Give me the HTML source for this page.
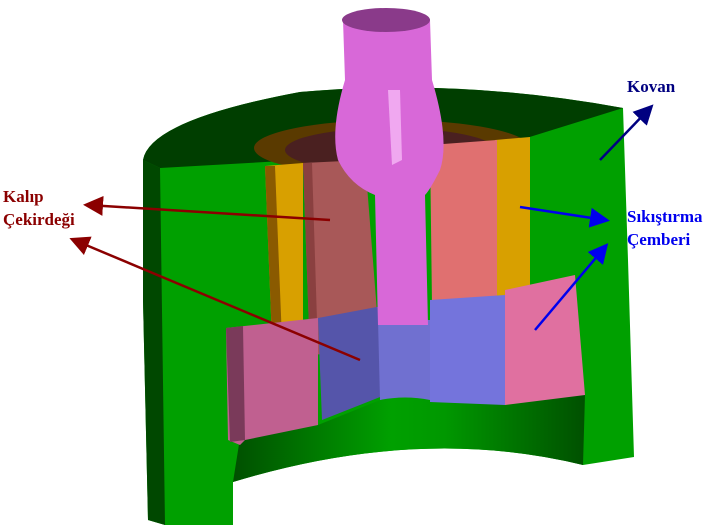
<!DOCTYPE html>
<html><head><meta charset="utf-8"><style>
body{margin:0;background:#fff}
svg{display:block}
text{font-family:"Liberation Serif",serif;font-weight:bold;font-size:17px}
</style></head><body>
<svg width="720" height="529" viewBox="0 0 720 529">
<defs>
<marker id="ar" markerWidth="8" markerHeight="8" refX="6" refY="4" orient="auto"><path d="M0,0 L8,4 L0,8 z" fill="#8b0000"/></marker>
<marker id="ab" markerWidth="8" markerHeight="8" refX="6" refY="4" orient="auto"><path d="M0,0 L8,4 L0,8 z" fill="#0000ee"/></marker>
<marker id="an" markerWidth="8" markerHeight="8" refX="6" refY="4" orient="auto"><path d="M0,0 L8,4 L0,8 z" fill="#000080"/></marker>
<linearGradient id="inner" x1="0" x2="1" y1="0" y2="0">
<stop offset="0" stop-color="#005000"/><stop offset="0.45" stop-color="#00a000"/><stop offset="0.6" stop-color="#009800"/><stop offset="1" stop-color="#005000"/>
</linearGradient>
</defs>
<g>
<path d="M143,160 Q150,120 300,92 Q460,78 623,108 L628,260 L634,457 L583,465 Q420,425 233,482 L233,525 L165,525 L148,520 L143,300 Z" fill="#00a000"/>
<path d="M143,160 L160,168 L165,525 L148,520 L143,300 Z" fill="#004800"/>
<path d="M143,160 Q150,120 300,92 Q460,78 623,108 L520,140 L300,160 L160,168 Z" fill="#003e00"/>
<path d="M240,438 L318,425 L385,398 Q410,395 430,400 L585,395 L583,465 Q420,425 233,482 Z" fill="url(#inner)"/>
</g>
<ellipse cx="392" cy="148" rx="138" ry="28" fill="#5a3a00"/>
<ellipse cx="390" cy="150" rx="105" ry="22" fill="#4a2020"/>
<path d="M265,166 L303,163 L303,335 L272,340 Z" fill="#d8a000"/>
<path d="M265,166 L275,166 L282,340 L272,340 Z" fill="#8a5a00"/>
<path d="M495,140 L530,137 L530,310 L497,312 Z" fill="#d8a000"/>
<path d="M303,163 L365,160 L380,350 L310,355 Z" fill="#a85858"/>
<path d="M303,163 L312,163 L318,352 L310,355 Z" fill="#8a4040"/>
<path d="M430,145 L497,140 L497,300 L432,305 Z" fill="#e07070"/>
<path d="M226,328 L318,318 L318,425 L245,440 L240,445 L228,440 Z" fill="#c06090"/>
<path d="M226,328 L243,326 L245,440 L230,442 Z" fill="#7a3a5a"/>
<path d="M318,318 L382,306 L385,395 L322,420 Z" fill="#5555aa"/>
<path d="M430,300 L505,295 L505,405 L430,402 Z" fill="#7474dc"/>
<path d="M505,290 L575,275 L585,395 L505,405 Z" fill="#e070a0"/>
<g>
<path d="M378,320 L430,320 L430,400 Q405,395 380,400 Z" fill="#7070d0"/>
<path d="M343,20 L430,20 L432,80 Q450,140 440,170 Q430,190 425,195 L428,325 L378,325 L375,195 Q350,185 338,160 Q330,130 345,80 Z" fill="#d868d8"/>
<path d="M388,90 L400,90 L402,160 L392,165 Z" fill="#f0a8f0"/>
<ellipse cx="386" cy="20" rx="44" ry="12" fill="#8a3a8a"/>
</g>
<line x1="330" y1="220" x2="88" y2="205" stroke="#8b0000" stroke-width="2.5" marker-end="url(#ar)"/>
<line x1="360" y1="360" x2="74" y2="240" stroke="#8b0000" stroke-width="2.5" marker-end="url(#ar)"/>
<line x1="600" y1="160" x2="650" y2="108" stroke="#000080" stroke-width="2.5" marker-end="url(#an)"/>
<line x1="520" y1="207" x2="605" y2="220" stroke="#0000ee" stroke-width="2.5" marker-end="url(#ab)"/>
<line x1="535" y1="330" x2="605" y2="247" stroke="#0000ee" stroke-width="2.5" marker-end="url(#ab)"/>
<text x="3" y="202" fill="#8b0000">Kalıp</text>
<text x="3" y="225" fill="#8b0000">Çekirdeği</text>
<text x="627" y="92" fill="#000080">Kovan</text>
<text x="627" y="222" fill="#0000ee">Sıkıştırma</text>
<text x="627" y="245" fill="#0000ee">Çemberi</text>
</svg>
</body></html>
